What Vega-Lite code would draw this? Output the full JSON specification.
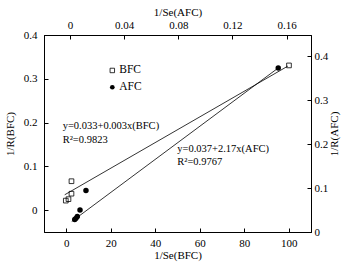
{
  "$schema": "https://vega.github.io/schema/vega-lite/v6.json",
  "width": 267,
  "height": 197,
  "autosize": {"type": "none"},
  "padding": {"left": 44, "top": 35, "right": 43, "bottom": 34},
  "background": "white",
  "config": {
    "view": {"stroke": "black", "strokeWidth": 1},
    "axis": {
      "grid": false,
      "labelFont": "Liberation Serif",
      "labelFontSize": 11,
      "labelColor": "black",
      "titleFont": "Liberation Serif",
      "titleFontSize": 11,
      "titleFontWeight": "normal",
      "titleColor": "black",
      "domainColor": "black",
      "domainWidth": 1,
      "tickColor": "black",
      "tickWidth": 1
    },
    "text": {"font": "Liberation Serif", "fontSize": 10.5, "color": "black"}
  },
  "datasets": {
    "bfc": [
      {"x": -0.2, "y": 0.0217},
      {"x": 1.0, "y": 0.025},
      {"x": 2.35, "y": 0.0375},
      {"x": 2.35, "y": 0.066},
      {"x": 100.1, "y": 0.3305}
    ],
    "bfcfit": [
      {"x": -0.7, "y": 0.035},
      {"x": 99.6, "y": 0.329}
    ],
    "afc": [
      {"x": 0.0035, "y": 0.0286},
      {"x": 0.0044, "y": 0.031},
      {"x": 0.0054, "y": 0.0355},
      {"x": 0.0074, "y": 0.05},
      {"x": 0.0118, "y": 0.0945},
      {"x": 0.1538, "y": 0.373}
    ],
    "afcfit": [
      {"x": 0.0013, "y": 0.024},
      {"x": 0.1538, "y": 0.373}
    ],
    "legend": [
      {"x": 20.7, "y": 0.319, "tx": 23.8, "label": "BFC", "kind": "BFC"},
      {"x": 20.7, "y": 0.2806, "tx": 23.8, "label": "AFC", "kind": "AFC"}
    ],
    "notes": [
      {"x": -1.6, "y": 0.1926, "label": "y=0.033+0.003x(BFC)"},
      {"x": -1.6, "y": 0.160, "label": "R²=0.9823"},
      {"x": 49.9, "y": 0.1406, "label": "y=0.037+2.17x(AFC)"},
      {"x": 49.9, "y": 0.111, "label": "R²=0.9767"}
    ]
  },
  "layer": [
    {
      "layer": [
        {
          "data": {"name": "bfcfit"},
          "mark": {"type": "line", "color": "black", "strokeWidth": 0.8},
          "encoding": {
            "x": {
              "field": "x", "type": "quantitative",
              "scale": {"domain": [-10, 110], "nice": false, "zero": false},
              "axis": {
                "orient": "bottom",
                "title": "1/Se(BFC)",
                "values": [0, 10, 20, 30, 40, 50, 60, 70, 80, 90, 100],
                "labelExpr": "datum.value % 20 == 0 ? '' + datum.value : ''",
                "tickSize": {"condition": {"test": "datum.value % 20 == 0", "value": -4}, "value": -2},
                "labelPadding": 9,
                "titlePadding": 1
              }
            },
            "y": {
              "field": "y", "type": "quantitative",
              "scale": {"domain": [-0.05, 0.4], "nice": false, "zero": false},
              "axis": {
                "orient": "left",
                "title": "1/R(BFC)",
                "values": [0, 0.05, 0.1, 0.15, 0.2, 0.25, 0.3, 0.35, 0.4],
                "labelExpr": "round(datum.value*100) % 10 == 0 ? '' + datum.value : ''",
                "tickSize": {"condition": {"test": "round(datum.value*100) % 10 == 0", "value": -4}, "value": -2},
                "labelPadding": 11,
                "titlePadding": 8
              }
            }
          }
        },
        {
          "data": {"name": "bfc"},
          "mark": {"type": "point", "shape": "square", "filled": false, "color": "black", "strokeWidth": 0.8, "size": 22, "opacity": 1},
          "encoding": {
            "x": {"field": "x", "type": "quantitative"},
            "y": {"field": "y", "type": "quantitative"}
          }
        },
        {
          "data": {"name": "legend"},
          "transform": [{"filter": "datum.kind == 'BFC'"}],
          "mark": {"type": "point", "shape": "square", "filled": false, "color": "black", "strokeWidth": 0.8, "size": 20, "opacity": 1},
          "encoding": {
            "x": {"field": "x", "type": "quantitative"},
            "y": {"field": "y", "type": "quantitative"}
          }
        },
        {
          "data": {"name": "legend"},
          "transform": [{"filter": "datum.kind == 'AFC'"}],
          "mark": {"type": "point", "shape": "circle", "filled": true, "color": "black", "size": 22, "opacity": 1},
          "encoding": {
            "x": {"field": "x", "type": "quantitative"},
            "y": {"field": "y", "type": "quantitative"}
          }
        },
        {
          "data": {"name": "legend"},
          "mark": {"type": "text", "align": "left", "baseline": "middle", "fontSize": 11.5},
          "encoding": {
            "x": {"field": "tx", "type": "quantitative"},
            "y": {"field": "y", "type": "quantitative"},
            "text": {"field": "label"}
          }
        },
        {
          "data": {"name": "notes"},
          "mark": {"type": "text", "align": "left", "baseline": "middle"},
          "encoding": {
            "x": {"field": "x", "type": "quantitative"},
            "y": {"field": "y", "type": "quantitative"},
            "text": {"field": "label"}
          }
        }
      ]
    },
    {
      "layer": [
        {
          "data": {"name": "afcfit"},
          "mark": {"type": "line", "color": "black", "strokeWidth": 0.8},
          "encoding": {
            "x": {
              "field": "x", "type": "quantitative",
              "scale": {"domain": [-0.0192, 0.178], "nice": false, "zero": false},
              "axis": {
                "orient": "top",
                "title": "1/Se(AFC)",
                "values": [0, 0.02, 0.04, 0.06, 0.08, 0.1, 0.12, 0.14, 0.16],
                "labelExpr": "round(datum.value*100) % 4 == 0 ? '' + datum.value : ''",
                "tickSize": {"condition": {"test": "round(datum.value*100) % 4 == 0", "value": -4}, "value": -2},
                "labelPadding": 9,
                "titlePadding": 2
              }
            },
            "y": {
              "field": "y", "type": "quantitative",
              "scale": {"domain": [0, 0.448], "nice": false, "zero": false},
              "axis": {
                "orient": "right",
                "title": "1/R(AFC)",
                "values": [0, 0.05, 0.1, 0.15, 0.2, 0.25, 0.3, 0.35, 0.4],
                "labelExpr": "round(datum.value*100) % 10 == 0 ? '' + datum.value : ''",
                "tickSize": {"condition": {"test": "round(datum.value*100) % 10 == 0", "value": -4}, "value": -2},
                "labelPadding": 7,
                "titlePadding": 12,
                "titleAngle": -90
              }
            }
          }
        },
        {
          "data": {"name": "afc"},
          "mark": {"type": "point", "shape": "circle", "filled": true, "color": "black", "size": 30, "opacity": 1},
          "encoding": {
            "x": {"field": "x", "type": "quantitative"},
            "y": {"field": "y", "type": "quantitative"}
          }
        }
      ]
    }
  ],
  "resolve": {"scale": {"x": "independent", "y": "independent"}}
}
